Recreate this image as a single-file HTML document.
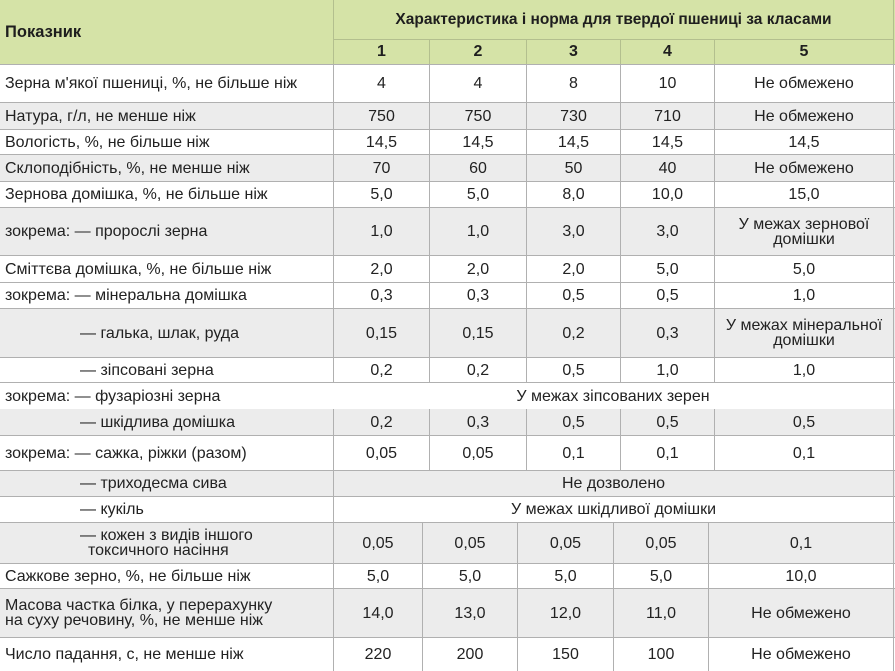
<!DOCTYPE html>
<html><head><meta charset="utf-8">
<style>
html,body{margin:0;padding:0;background:#fff}
body{width:895px;height:671px;position:relative;overflow:hidden;font-family:"Liberation Sans","DejaVu Sans",sans-serif;color:#222;font-size:16px}
.hd{position:absolute;left:0;top:0;width:895px;height:64px;background:#d5e3a7}
.hd div{position:absolute;box-sizing:border-box;display:flex;align-items:center;justify-content:center;font-weight:bold;font-size:16px;color:#1e1e1e}
.r{position:absolute;left:0;width:895px;box-sizing:border-box;border-top:1px solid #b0b0b0;background:#fff}
.g{background:#ececec}
.nb{border-top:none}
.r>div{position:absolute;top:0;height:100%;box-sizing:border-box;display:flex;align-items:center;justify-content:center;text-align:center;line-height:15px;white-space:nowrap}
.r>.t{left:0;width:333px;padding-left:5px;justify-content:flex-start;text-align:left}
.r>.i{padding-left:80px}
.a1{left:333px;width:96px;border-left:1px solid #b0b0b0}
.a2{left:429px;width:97px;border-left:1px solid #b0b0b0}
.a3{left:526px;width:94px;border-left:1px solid #b0b0b0}
.a4{left:620px;width:94px;border-left:1px solid #b0b0b0}
.a5{left:714px;width:180px;border-left:1px solid #b0b0b0;border-right:1px solid #b0b0b0}
.b1{left:333px;width:89px;border-left:1px solid #b0b0b0}
.b2{left:422px;width:95px;border-left:1px solid #b0b0b0}
.b3{left:517px;width:96px;border-left:1px solid #b0b0b0}
.b4{left:613px;width:95px;border-left:1px solid #b0b0b0}
.b5{left:708px;width:186px;border-left:1px solid #b0b0b0;border-right:1px solid #b0b0b0}
.sp{left:333px;width:561px;border-left:1px solid #b0b0b0;border-right:1px solid #b0b0b0}
.sp0{left:333px;width:561px;border-right:1px solid #b0b0b0}
</style></head><body>

<div class="hd">
  <div style="left:5px;top:0;height:64px;justify-content:flex-start;font-size:16.5px">Показник</div>
  <div style="left:333px;top:0;width:561px;height:40px;border-left:1px solid #b3bf8e;border-right:1px solid #b3bf8e;border-bottom:1px solid #b3bf8e;font-size:15.5px">Характеристика і норма для твердої пшениці за класами</div>
  <div style="left:333px;top:40px;width:96px;height:24px;border-left:1px solid #b3bf8e">1</div>
  <div style="left:429px;top:40px;width:97px;height:24px;border-left:1px solid #b3bf8e">2</div>
  <div style="left:526px;top:40px;width:94px;height:24px;border-left:1px solid #b3bf8e">3</div>
  <div style="left:620px;top:40px;width:94px;height:24px;border-left:1px solid #b3bf8e">4</div>
  <div style="left:714px;top:40px;width:180px;height:24px;border-left:1px solid #b3bf8e;border-right:1px solid #b3bf8e">5</div>
</div>

<div class="r" style="top:64px;height:38px">
  <div class="t">Зерна м'якої пшениці, %, не більше ніж</div>
  <div class="a1">4</div><div class="a2">4</div><div class="a3">8</div><div class="a4">10</div><div class="a5">Не обмежено</div>
</div>
<div class="r g" style="top:102px;height:27px">
  <div class="t">Натура, г/л, не менше ніж</div>
  <div class="a1">750</div><div class="a2">750</div><div class="a3">730</div><div class="a4">710</div><div class="a5">Не обмежено</div>
</div>
<div class="r" style="top:129px;height:25px">
  <div class="t">Вологість, %, не більше ніж</div>
  <div class="a1">14,5</div><div class="a2">14,5</div><div class="a3">14,5</div><div class="a4">14,5</div><div class="a5">14,5</div>
</div>
<div class="r g" style="top:154px;height:27px">
  <div class="t">Склоподібність, %, не менше ніж</div>
  <div class="a1">70</div><div class="a2">60</div><div class="a3">50</div><div class="a4">40</div><div class="a5">Не обмежено</div>
</div>
<div class="r" style="top:181px;height:26px">
  <div class="t">Зернова домішка, %, не більше ніж</div>
  <div class="a1">5,0</div><div class="a2">5,0</div><div class="a3">8,0</div><div class="a4">10,0</div><div class="a5">15,0</div>
</div>
<div class="r g" style="top:207px;height:48px">
  <div class="t">зокрема: — пророслі зерна</div>
  <div class="a1">1,0</div><div class="a2">1,0</div><div class="a3">3,0</div><div class="a4">3,0</div><div class="a5">У межах зернової<br>домішки</div>
</div>
<div class="r" style="top:255px;height:27px">
  <div class="t">Сміттєва домішка, %, не більше ніж</div>
  <div class="a1">2,0</div><div class="a2">2,0</div><div class="a3">2,0</div><div class="a4">5,0</div><div class="a5">5,0</div>
</div>
<div class="r" style="top:282px;height:26px">
  <div class="t">зокрема: — мінеральна домішка</div>
  <div class="a1">0,3</div><div class="a2">0,3</div><div class="a3">0,5</div><div class="a4">0,5</div><div class="a5">1,0</div>
</div>
<div class="r g" style="top:308px;height:49px">
  <div class="t i">— галька, шлак, руда</div>
  <div class="a1">0,15</div><div class="a2">0,15</div><div class="a3">0,2</div><div class="a4">0,3</div><div class="a5">У межах мінеральної<br>домішки</div>
</div>
<div class="r" style="top:357px;height:25px">
  <div class="t i">— зіпсовані зерна</div>
  <div class="a1">0,2</div><div class="a2">0,2</div><div class="a3">0,5</div><div class="a4">1,0</div><div class="a5">1,0</div>
</div>
<div class="r" style="top:382px;height:27px">
  <div class="t">зокрема: — фузаріозні зерна</div>
  <div class="sp0">У межах зіпсованих зерен</div>
</div>
<div class="r g nb" style="top:409px;height:26px">
  <div class="t i">— шкідлива домішка</div>
  <div class="a1">0,2</div><div class="a2">0,3</div><div class="a3">0,5</div><div class="a4">0,5</div><div class="a5">0,5</div>
</div>
<div class="r" style="top:435px;height:35px">
  <div class="t">зокрема: — сажка, ріжки (разом)</div>
  <div class="a1">0,05</div><div class="a2">0,05</div><div class="a3">0,1</div><div class="a4">0,1</div><div class="a5">0,1</div>
</div>
<div class="r g" style="top:470px;height:26px">
  <div class="t i">— триходесма сива</div>
  <div class="sp">Не дозволено</div>
</div>
<div class="r" style="top:496px;height:26px">
  <div class="t i">— кукіль</div>
  <div class="sp">У межах шкідливої домішки</div>
</div>
<div class="r g" style="top:522px;height:41px">
  <div class="t i"><span>— кожен з видів іншого<br><span style="padding-left:8px">токсичного насіння</span></span></div>
  <div class="b1">0,05</div><div class="b2">0,05</div><div class="b3">0,05</div><div class="b4">0,05</div><div class="b5">0,1</div>
</div>
<div class="r" style="top:563px;height:25px">
  <div class="t">Сажкове зерно, %, не більше ніж</div>
  <div class="b1">5,0</div><div class="b2">5,0</div><div class="b3">5,0</div><div class="b4">5,0</div><div class="b5">10,0</div>
</div>
<div class="r g" style="top:588px;height:49px">
  <div class="t">Масова частка білка, у перерахунку<br>на суху речовину, %, не менше ніж</div>
  <div class="b1">14,0</div><div class="b2">13,0</div><div class="b3">12,0</div><div class="b4">11,0</div><div class="b5">Не обмежено</div>
</div>
<div class="r" style="top:637px;height:34px">
  <div class="t">Число падання, с, не менше ніж</div>
  <div class="b1">220</div><div class="b2">200</div><div class="b3">150</div><div class="b4">100</div><div class="b5">Не обмежено</div>
</div>

</body></html>
